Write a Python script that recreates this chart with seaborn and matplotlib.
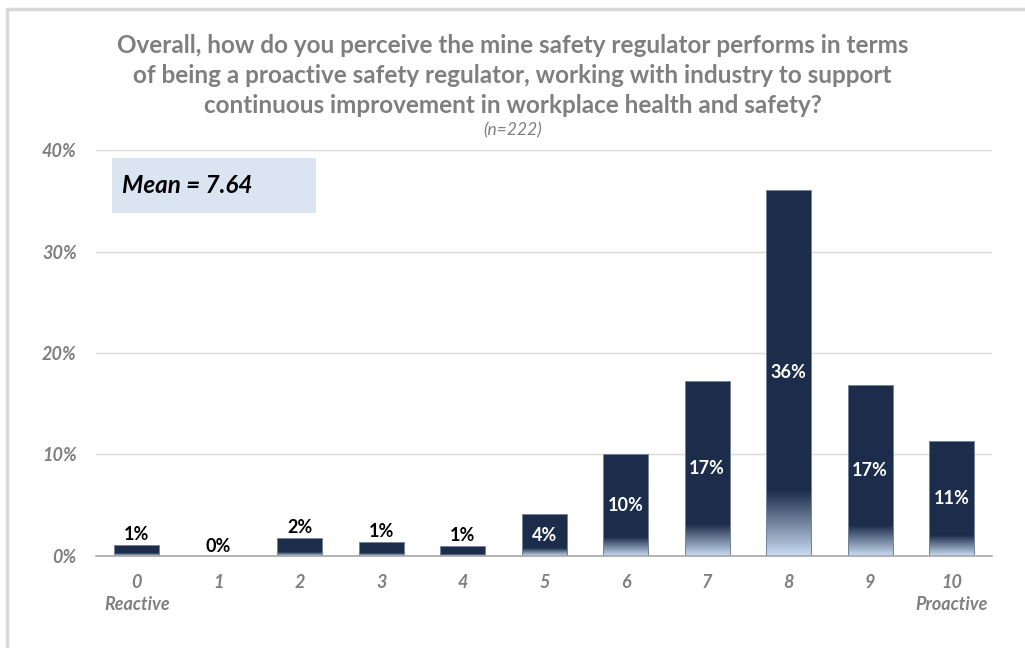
import numpy as np
import pandas as pd
import seaborn as sns
import matplotlib.pyplot as plt
from matplotlib.colors import LinearSegmentedColormap
from matplotlib.lines import Line2D
from matplotlib.patches import Rectangle

# chart values (percent of respondents per score)
scores = ['0', '1', '2', '3', '4', '5', '6', '7', '8', '9', '10']
pct = [1.1, 0.0, 1.8, 1.4, 1.0, 4.1, 10.0, 17.2, 36.1, 16.8, 11.3]
tick_labels = ['0\nReactive', '1', '2', '3', '4', '5', '6', '7', '8', '9', '10\nProactive']
mean_score = 7.64
n_resp = 222
title = ('Overall, how do you perceive the mine safety regulator performs in terms\n'
         'of being a proactive safety regulator, working with industry to support\n'
         'continuous improvement in workplace health and safety?')

df = pd.DataFrame({'score': scores, 'pct': pct})

sns.set_style('white')
plt.rcParams['font.family'] = ['Lato', 'DejaVu Sans']

navy = '#1b2d4a'
light = '#c9dcf2'
grey = '#7f7f7f'

fig = plt.figure(figsize=(10.25, 6.48), dpi=100)
ax = fig.add_axes([0.0937, 0.142, 0.8745, 0.6265])

sns.barplot(data=df, x='score', y='pct', order=scores, color=navy,
            width=0.55, saturation=1, edgecolor='#6f819a', linewidth=0.6, ax=ax)

# gradient in the lower part of each bar
cmap = LinearSegmentedColormap.from_list('fade', [light, navy])
grad = np.linspace(0, 1, 100).reshape(-1, 1)
for p in ax.patches:
    h = p.get_height()
    if h <= 0:
        continue
    x0, w = p.get_x(), p.get_width()
    ax.imshow(grad, cmap=cmap, origin='lower', aspect='auto', interpolation='bilinear',
              extent=[x0 + 0.01, x0 + w - 0.01, 0, h * 0.18], zorder=p.get_zorder() + 0.1)

ax.set_xlim(-0.5, 10.5)
ax.set_ylim(0, 40)

# data labels
for i, v in enumerate(pct):
    txt = f'{v:.0f}%'
    if v >= 3:
        ax.text(i, v / 2, txt, ha='center', va='center', color='white',
                fontsize=13, fontweight='bold', zorder=5)
    else:
        ax.annotate(txt, (i, v), xytext=(0, 1), textcoords='offset points',
                    ha='center', va='bottom', color='black',
                    fontsize=13, fontweight='bold', zorder=5)

ax.set_yticks([0, 10, 20, 30, 40])
ax.set_yticklabels(['0%', '10%', '20%', '30%', '40%'])
ax.set_xticks(range(len(scores)))
ax.set_xticklabels(tick_labels, linespacing=1.35)
ax.set_xticks(np.arange(-0.5, 11, 1), minor=True)
ax.tick_params(axis='x', which='major', length=0, pad=13)
ax.tick_params(axis='x', which='minor', length=6, color='#a6a6a6', width=1, direction='out')
ax.tick_params(axis='y', length=0, pad=14)
for lab in ax.get_xticklabels() + ax.get_yticklabels():
    lab.set_fontsize(13)
    lab.set_fontweight('bold')
    lab.set_fontstyle('italic')
    lab.set_color(grey)

ax.grid(axis='y', color='#d9d9d9', linewidth=1)
ax.set_axisbelow(True)
sns.despine(ax=ax, left=True)
ax.spines['bottom'].set_color('#a6a6a6')
ax.spines['bottom'].set_linewidth(1.2)
ax.set_xlabel('')
ax.set_ylabel('')

# mean box
ax.add_patch(Rectangle((0.109, 0.671), 0.199, 0.085, transform=fig.transFigure,
                       facecolor='#dbe5f1', edgecolor='none', zorder=0, clip_on=False))
fig.text(0.119, 0.7145, f'Mean = {mean_score:.2f}', fontsize=17.5, fontweight='bold',
         fontstyle='italic', color='black', va='center', ha='left')

# title
fig.text(0.5, 0.884, title, ha='center', va='center', fontsize=17.5,
         fontweight='bold', color=grey, linespacing=1.36)
fig.text(0.5, 0.799, f'(n={n_resp})', ha='center', va='center', fontsize=12.5,
         fontstyle='italic', color=grey)

# frame lines of the chart area
fig.add_artist(Line2D([0.007, 0.007], [0, 0.986], color='#d9d9d9', linewidth=2.5))
fig.add_artist(Line2D([0.007, 1], [0.986, 0.986], color='#d9d9d9', linewidth=2.5))

fig.savefig('out.png', dpi=100)
